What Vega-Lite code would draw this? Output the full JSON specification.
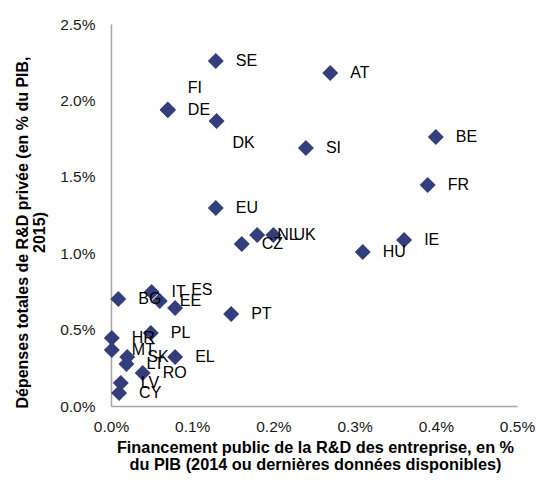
{
  "$schema": "https://vega.github.io/schema/vega-lite/v6.json",
  "width": 406,
  "height": 382,
  "autosize": {"type": "none"},
  "padding": {"left": 111, "top": 24, "right": 21, "bottom": 74},
  "background": "white",
  "config": {
    "font": "Liberation Sans",
    "view": {"stroke": null}
  },
  "data": {
    "values": [
      {"pays": "SE", "financement": 0.129, "depenses": 2.258},
      {"pays": "AT", "financement": 0.270, "depenses": 2.179},
      {"pays": "FI", "financement": 0.070, "depenses": 1.940},
      {"pays": "DE", "financement": 0.070, "depenses": 1.935},
      {"pays": "DK", "financement": 0.130, "depenses": 1.865},
      {"pays": "BE", "financement": 0.400, "depenses": 1.760},
      {"pays": "SI", "financement": 0.240, "depenses": 1.688},
      {"pays": "FR", "financement": 0.390, "depenses": 1.446},
      {"pays": "EU", "financement": 0.129, "depenses": 1.296},
      {"pays": "NL", "financement": 0.180, "depenses": 1.119},
      {"pays": "UK", "financement": 0.200, "depenses": 1.119},
      {"pays": "CZ", "financement": 0.161, "depenses": 1.060},
      {"pays": "IE", "financement": 0.361, "depenses": 1.086},
      {"pays": "HU", "financement": 0.310, "depenses": 1.008},
      {"pays": "BG", "financement": 0.009, "depenses": 0.700},
      {"pays": "IT", "financement": 0.050, "depenses": 0.746},
      {"pays": "EE", "financement": 0.060, "depenses": 0.687},
      {"pays": "ES", "financement": 0.079, "depenses": 0.641},
      {"pays": "PT", "financement": 0.148, "depenses": 0.602},
      {"pays": "PL", "financement": 0.049, "depenses": 0.478},
      {"pays": "HR", "financement": 0.001, "depenses": 0.445},
      {"pays": "MT", "financement": 0.001, "depenses": 0.366},
      {"pays": "SK", "financement": 0.020, "depenses": 0.321},
      {"pays": "LT", "financement": 0.019, "depenses": 0.275},
      {"pays": "EL", "financement": 0.079, "depenses": 0.321},
      {"pays": "RO", "financement": 0.039, "depenses": 0.216},
      {"pays": "LV", "financement": 0.012, "depenses": 0.151},
      {"pays": "CY", "financement": 0.010, "depenses": 0.085}
    ]
  },
  "encoding": {
    "x": {
      "field": "financement",
      "type": "quantitative",
      "scale": {"domain": [0, 0.5], "nice": false, "zero": true},
      "axis": {
        "values": [0, 0.1, 0.2, 0.3, 0.4, 0.5],
        "labelExpr": "format(datum.value, '.1f') + '%'",
        "grid": false,
        "ticks": false,
        "tickSize": 0,
        "domainColor": "#a6a6a6",
        "domainWidth": 1.5,
        "labelFontSize": 15.5,
        "labelColor": "#1a1a1a",
        "labelPadding": 13,
        "labelFlush": false,
        "labelOverlap": false,
        "title": ["Financement public de la R&D des entreprise, en %", "du PIB (2014 ou dernières données disponibles)"],
        "titleFontSize": 16.3,
        "titleFontWeight": "bold",
        "titleColor": "#000000",
        "titleLineHeight": 17,
        "titleBaseline": "alphabetic",
        "titleAlign": "center",
        "titleAnchor": "middle",
        "titleX": 204,
        "titleY": 46
      }
    },
    "y": {
      "field": "depenses",
      "type": "quantitative",
      "scale": {"domain": [0, 2.5], "nice": false, "zero": true},
      "axis": {
        "values": [0, 0.5, 1, 1.5, 2, 2.5],
        "labelExpr": "format(datum.value, '.1f') + '%'",
        "grid": false,
        "ticks": false,
        "tickSize": 0,
        "domainColor": "#a6a6a6",
        "domainWidth": 1.5,
        "labelFontSize": 15.5,
        "labelColor": "#1a1a1a",
        "labelPadding": 16,
        "labelFlush": false,
        "labelOverlap": false,
        "title": ["Dépenses totales de R&D privée (en % du PIB,", "2015)"],
        "titleFontSize": 16,
        "titleFontWeight": "bold",
        "titleColor": "#000000",
        "titleLineHeight": 17,
        "titleAngle": -90,
        "titleBaseline": "alphabetic",
        "titleAlign": "center",
        "titleAnchor": "middle",
        "titleX": -84,
        "titleY": 208
      }
    }
  },
  "layer": [
    {
      "mark": {"type": "point", "shape": "diamond", "filled": true, "size": 256, "color": "#343e7c", "opacity": 1}
    },
    {
      "transform": [{"filter": "indexof(['FI','DK','ES'], datum.pays) < 0"}],
      "mark": {"type": "text", "align": "left", "baseline": "middle", "dx": 20, "fontSize": 16, "color": "#000000"},
      "encoding": {"text": {"field": "pays"}}
    },
    {
      "transform": [{"filter": "datum.pays == 'FI'"}],
      "mark": {"type": "text", "align": "left", "baseline": "middle", "dx": 20, "dy": -22, "fontSize": 16, "color": "#000000"},
      "encoding": {"text": {"field": "pays"}}
    },
    {
      "transform": [{"filter": "datum.pays == 'DK'"}],
      "mark": {"type": "text", "align": "left", "baseline": "middle", "dx": 16, "dy": 22, "fontSize": 16, "color": "#000000"},
      "encoding": {"text": {"field": "pays"}}
    },
    {
      "transform": [{"filter": "datum.pays == 'ES'"}],
      "mark": {"type": "text", "align": "left", "baseline": "middle", "dx": 16, "dy": -18, "fontSize": 16, "color": "#000000"},
      "encoding": {"text": {"field": "pays"}}
    }
  ]
}
